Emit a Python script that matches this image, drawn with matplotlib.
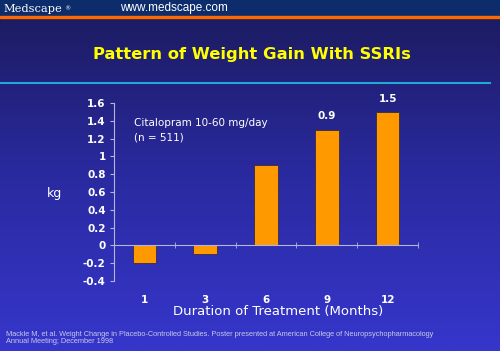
import numpy as np
import matplotlib.pyplot as plt
from matplotlib.colors import LinearSegmentedColormap

months = ["1", "3", "6", "9", "12"]
gain = [-0.2, -0.1, 0.9, 1.3, 1.5]
yticks = [-0.4, -0.2, 0, 0.2, 0.4, 0.6, 0.8, 1, 1.2, 1.4, 1.6]
value_labels = {3: "0.9", 4: "1.5"}

fig = plt.figure(figsize=(5, 3.51), dpi=100)

# background gradient, dark navy at top to blue at bottom
bg = fig.add_axes([0, 0, 1, 1])
cmap = LinearSegmentedColormap.from_list("bg", ["#1b1a5c", "#2a2aa0", "#3636cc"])
grad = np.linspace(0, 1, 256).reshape(-1, 1)
bg.imshow(grad, aspect="auto", cmap=cmap, extent=[0, 1, 0, 1], origin="upper")
bg.set_xlim(0, 1)
bg.set_ylim(0, 1)
bg.axis("off")

# header strip
bg.axhspan(1 - 16 / 351, 1, color="#0c2c6c")
bg.axhspan(1 - 18 / 351, 1 - 16 / 351, color="#ff6a00")
bg.text(0.006, 1 - 8.5 / 351, "Medscape", family="DejaVu Serif", color="white",
        fontsize=8.2, va="center", ha="left")
bg.text(0.128, 1 - 9 / 351, "®", color="white", fontsize=4.5, va="center", ha="left")
bg.text(0.24, 1 - 8.5 / 351, "www.medscape.com", family="Liberation Sans",
        color="white", fontsize=8.5, va="center")

# title and rule
bg.text(0.503, 1 - 55 / 351, "Pattern of Weight Gain With SSRIs", color="#ffff00",
        fontsize=11.8, fontweight="bold", ha="center", va="center")
bg.plot([0, 0.98], [1 - 83 / 351] * 2, color="#1fa8d8", lw=1.5)

# footnote
bg.text(0.012, 1 - 338 / 351, "Mackle M, et al. Weight Change in Placebo-Controlled Studies. "
        "Poster presented at American College of Neuropsychopharmacology\nAnnual Meeting; December 1998",
        family="Liberation Sans", color="#c8c8e8", fontsize=5.3, va="center", ha="left",
        linespacing=1.15)

ax = fig.add_axes([0.228, 0.1994, 0.608, 0.5072])
ax.patch.set_alpha(0)
x = np.arange(len(months))
ax.bar(x, gain, width=0.39, color="#ff9900", edgecolor="#3a2a40", linewidth=0.6)
for i, lab in value_labels.items():
    ax.annotate(lab, (x[i], gain[i]), xytext=(0, 6), textcoords="offset points",
                ha="center", va="bottom", color="white", fontsize=7.5, fontweight="bold")

ax.set_xlim(-0.5, len(months) - 0.5)
ax.set_ylim(-0.4, 1.6)
ax.set_yticks(yticks)
ax.set_yticklabels([f"{v:g}" for v in yticks])

axis_col = "#b4b4dc"
for s in ["top", "right"]:
    ax.spines[s].set_visible(False)
ax.spines["left"].set_color(axis_col)
ax.spines["bottom"].set_color(axis_col)
ax.spines["bottom"].set_position(("data", 0))

ax.set_xticks(x)
ax.set_xticklabels(months)
ax.set_xticks(np.arange(len(months)) + 0.5, minor=True)
ax.tick_params(axis="x", which="major", length=0, pad=36, colors="white", labelsize=7.5)
ax.tick_params(axis="x", which="minor", length=4, direction="inout", color=axis_col)
ax.tick_params(axis="y", length=3, color=axis_col, colors="white", labelsize=7.5, pad=3)
for t in ax.get_xticklabels() + ax.get_yticklabels():
    t.set_fontweight("bold")
    t.set_color("white")

fig.text(55 / 500, 1 - 194 / 351, "kg", color="white", fontsize=9, ha="center", va="center")
fig.text(278 / 500, 1 - 312 / 351, "Duration of Treatment (Months)", color="white",
         fontsize=9.5, ha="center", va="center")
fig.text(134 / 500, 1 - 130 / 351, "Citalopram 10-60 mg/day\n(n = 511)", color="white",
         fontsize=7.5, ha="left", va="center", linespacing=1.5)

fig.savefig("out.png", dpi=100)
